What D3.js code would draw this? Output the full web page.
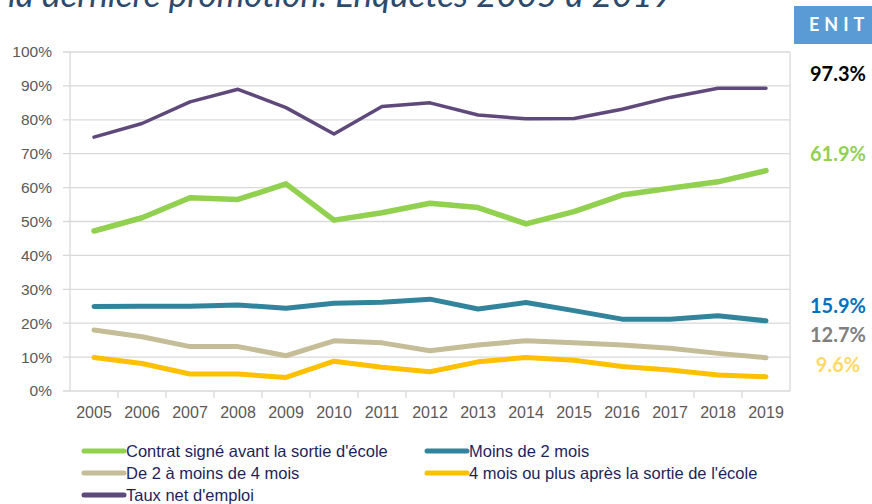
<!DOCTYPE html>
<html>
<head>
<meta charset="utf-8">
<script src="https://cdn.jsdelivr.net/npm/d3@7"></script>
<style>
  body { margin: 0; background: #fff; }
  svg { display: block; }
</style>
</head>
<body>
<div id="chart"></div>
<script>
// years on the x axis
const years = ["2005","2006","2007","2008","2009","2010","2011","2012","2013","2014","2015","2016","2017","2018","2019"];

// series values in %
const contratAvant = [47.2, 51.1, 57.0, 56.5, 61.1, 50.4, 52.6, 55.4, 54.1, 49.3, 52.9, 57.8, 59.8, 61.7, 65.0];
const moins2Mois   = [24.9, 25.0, 25.0, 25.4, 24.4, 25.9, 26.2, 27.1, 24.2, 26.1, 23.7, 21.2, 21.2, 22.2, 20.7];
const de2a4Mois    = [18.0, 16.0, 13.1, 13.1, 10.4, 14.8, 14.2, 11.9, 13.6, 14.8, 14.2, 13.6, 12.6, 11.1, 9.8];
const plus4Mois    = [9.9, 8.1, 5.0, 5.0, 4.0, 8.8, 7.0, 5.7, 8.6, 9.9, 9.1, 7.2, 6.2, 4.7, 4.2];
const tauxNet      = [74.9, 78.9, 85.3, 89.0, 83.6, 75.8, 83.9, 85.0, 81.4, 80.3, 80.4, 83.1, 86.6, 89.3, 89.3];

const seriesNames = [
  "Contrat signé avant la sortie d'école",
  "Moins de 2 mois",
  "De 2 à moins de 4 mois",
  "4 mois ou plus après la sortie de l'école",
  "Taux net d'emploi"
];

const yTicks = [0, 10, 20, 30, 40, 50, 60, 70, 80, 90, 100];

// ENIT figures shown at the right
const enitLabels = ["97.3%", "61.9%", "15.9%", "12.7%", "9.6%"];

const titleText = "la dernière promotion. Enquêtes 2005 à 2019";

const series = [
  { name: seriesNames[0], values: contratAvant, color: "#92d050", width: 5.5 },
  { name: seriesNames[1], values: moins2Mois,   color: "#31849b", width: 5 },
  { name: seriesNames[2], values: de2a4Mois,    color: "#c4bd97", width: 5 },
  { name: seriesNames[3], values: plus4Mois,    color: "#ffc000", width: 5 },
  { name: seriesNames[4], values: tauxNet,      color: "#5f497a", width: 3.5 }
];

const W = 872, H = 504;
const margin = { top: 52, right: 82, bottom: 113, left: 70 };
const width = W - margin.left - margin.right;
const height = H - margin.top - margin.bottom;

const svg = d3.select("#chart").append("svg")
  .attr("width", W)
  .attr("height", H);

// cut-off title at the very top
svg.append("text")
  .attr("x", 8)
  .attr("y", 7)
  .attr("font-family", "Lato, 'Open Sans', sans-serif")
  .attr("font-style", "italic")
  .attr("font-size", "35px")
  .attr("fill", "#2e4a6b")
  .text(titleText);

// ENIT badge
svg.append("rect")
  .attr("x", 794)
  .attr("y", 6)
  .attr("width", 78)
  .attr("height", 38)
  .attr("fill", "#5b9bd5");

svg.append("text")
  .attr("x", 809)
  .attr("y", 31)
  .attr("font-family", "Lato, 'Open Sans', sans-serif")
  .attr("font-weight", "bold")
  .attr("font-size", "18px")
  .attr("letter-spacing", "5px")
  .attr("fill", "#fff")
  .text("ENIT");

const g = svg.append("g")
  .attr("transform", `translate(${margin.left},${margin.top})`);

const x = d3.scaleBand()
  .domain(years)
  .range([0, width]);

const y = d3.scaleLinear()
  .domain([0, 100])
  .range([height, 0]);

// grid lines
g.selectAll(".grid")
  .data(yTicks)
  .enter()
  .append("line")
  .attr("class", "grid")
  .attr("x1", -7)
  .attr("x2", width)
  .attr("y1", d => y(d))
  .attr("y2", d => y(d))
  .attr("stroke", "#d9d9d9")
  .attr("stroke-width", 1.3);

// left axis line and right frame
g.append("line")
  .attr("x1", 0).attr("x2", 0)
  .attr("y1", 0).attr("y2", height)
  .attr("stroke", "#d9d9d9")
  .attr("stroke-width", 1.3);

g.append("line")
  .attr("x1", width).attr("x2", width)
  .attr("y1", 0).attr("y2", height)
  .attr("stroke", "#d9d9d9")
  .attr("stroke-width", 1.3);

// x ticks at band edges
g.selectAll(".xtick")
  .data(years.slice(1))
  .enter()
  .append("line")
  .attr("class", "xtick")
  .attr("x1", d => x(d))
  .attr("x2", d => x(d))
  .attr("y1", height)
  .attr("y2", height + 7)
  .attr("stroke", "#d9d9d9")
  .attr("stroke-width", 1.3);

// y labels
g.selectAll(".ylabel")
  .data(yTicks)
  .enter()
  .append("text")
  .attr("class", "ylabel")
  .attr("x", -18)
  .attr("y", d => y(d))
  .attr("dy", "0.35em")
  .attr("text-anchor", "end")
  .attr("font-family", "'Liberation Sans', Arial, sans-serif")
  .attr("font-size", "15.5px")
  .attr("fill", "#595959")
  .text(d => d + "%");

// x labels
g.selectAll(".xlabel")
  .data(years)
  .enter()
  .append("text")
  .attr("class", "xlabel")
  .attr("x", d => x(d) + x.bandwidth() / 2)
  .attr("y", height + 27)
  .attr("text-anchor", "middle")
  .attr("font-family", "'Liberation Sans', Arial, sans-serif")
  .attr("font-size", "16px")
  .attr("fill", "#595959")
  .text(d => d);

// lines
const line = d3.line()
  .x((d, i) => x(years[i]) + x.bandwidth() / 2)
  .y(d => y(d));

g.selectAll(".series")
  .data(series)
  .enter()
  .append("path")
  .attr("class", "series")
  .attr("fill", "none")
  .attr("stroke", d => d.color)
  .attr("stroke-width", d => d.width)
  .attr("stroke-linejoin", "round")
  .attr("stroke-linecap", "round")
  .attr("d", d => line(d.values));

// ENIT labels at right
const enitColors = ["#000000", "#92d050", "#0070c0", "#7f7f7f", "#ffd966"];
const enitY = [81, 161, 313, 342, 372];
svg.selectAll(".enit")
  .data(enitLabels)
  .enter()
  .append("text")
  .attr("class", "enit")
  .attr("x", 838)
  .attr("y", (d, i) => enitY[i])
  .attr("text-anchor", "middle")
  .attr("font-family", "Lato, 'Open Sans', sans-serif")
  .attr("font-weight", "bold")
  .attr("font-size", "20px")
  .attr("fill", (d, i) => enitColors[i])
  .text(d => d);

// legend
const legendPos = [
  { x: 82, y: 451 },
  { x: 425, y: 451 },
  { x: 82, y: 473 },
  { x: 425, y: 473 },
  { x: 82, y: 495 }
];

const legend = svg.selectAll(".legend")
  .data(series)
  .enter()
  .append("g")
  .attr("class", "legend")
  .attr("transform", (d, i) => `translate(${legendPos[i].x},${legendPos[i].y})`);

legend.append("line")
  .attr("x1", 2)
  .attr("x2", 42)
  .attr("stroke", d => d.color)
  .attr("stroke-width", 5)
  .attr("stroke-linecap", "round");

legend.append("text")
  .attr("x", 44)
  .attr("dy", "0.35em")
  .attr("font-family", "'Liberation Sans', Arial, sans-serif")
  .attr("font-size", "16.5px")
  .attr("fill", "#1f1f5c")
  .text(d => d.name);
</script>
</body>
</html>
